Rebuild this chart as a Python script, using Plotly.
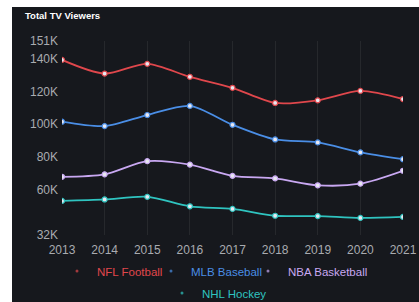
import plotly.graph_objects as go

years = [2013, 2014, 2015, 2016, 2017, 2018, 2019, 2020, 2021]
nfl = [139.4, 131.0, 137.0, 129.0, 122.3, 113.0, 114.6, 120.4, 115.4]
mlb = [101.5, 98.8, 105.6, 111.2, 99.6, 90.6, 88.8, 82.7, 78.5]
nba = [67.7, 69.2, 77.3, 75.2, 68.3, 66.7, 62.5, 63.5, 71.4]
nhl = [52.9, 53.8, 55.4, 49.6, 48.0, 43.8, 43.6, 42.5, 43.1]

series_names = ["NFL Football", "MLB Baseball", "NBA Basketball", "NHL Hockey"]
series_colors = ["#e0474c", "#4a8ee6", "#c9a8f2", "#2fc4c0"]
series_values = [nfl, mlb, nba, nhl]
legend_ids = ["legend", "legend2", "legend3", "legend4"]

ytick_vals = [32, 60, 80, 100, 120, 140, 151]
ytick_text = ["32K", "60K", "80K", "100K", "120K", "140K", "151K"]

W, H = 419, 302
ml, mr, mt, mb = 62, 16, 41, 67
OX, OY = 12, 7  # white border of the page around the dark panel
bg = "#16181d"

fig = go.Figure()
for name, col, vals in zip(series_names, series_colors, series_values):
    fig.add_trace(go.Scatter(
        x=years, y=vals, mode="lines+markers", name=name, showlegend=False,
        line=dict(color=col, width=1.8, shape="spline", smoothing=0.8),
        marker=dict(size=5, color="#e8e8f0", line=dict(color=col, width=1.2)),
    ))
for name, col, lg in zip(series_names, series_colors, legend_ids):
    fig.add_trace(go.Scatter(
        x=[None], y=[None], mode="markers", legend=lg,
        name=f"<span style='color:{col}'>{name}</span>",
        marker=dict(size=3, color=col, opacity=0.7),
    ))

# legend item placement: (marker x, row center y) in pixels
legend_pos = [(82, 271), (176, 271), (273, 271), (187, 293)]

leg_common = dict(orientation="h", xref="container", yref="container",
                  xanchor="left", yanchor="middle", font=dict(size=11.5),
                  itemwidth=30, bgcolor="rgba(0,0,0,0)", borderwidth=0)
legends = {}
for lg, (mx, my) in zip(legend_ids, legend_pos):
    legends[lg] = dict(x=(mx - 25) / W, y=(H - my) / H, **leg_common)

pw = W - ml - mr
ph = H - mt - mb
fig.update_layout(
    width=W, height=H,
    margin=dict(l=ml, r=mr, t=mt, b=mb, autoexpand=False),
    paper_bgcolor="#ffffff", plot_bgcolor=bg,
    font=dict(family="Liberation Sans, Arial, sans-serif", color="#a9abb0", size=12),
    xaxis=dict(range=[2013, 2021], tickvals=years, showgrid=True, automargin=False,
               gridcolor="rgba(255,255,255,0.07)", zeroline=False, showline=False,
               ticks="", ticklabelstandoff=6, tickfont=dict(size=12, color="#a9abb0")),
    yaxis=dict(range=[32, 151], tickvals=ytick_vals, ticktext=ytick_text, automargin=False,
               showgrid=False, zeroline=False, showline=False, ticks="",
               ticklabelstandoff=3, tickfont=dict(size=12, color="#a9abb0")),
    showlegend=True,
    title=dict(text="<b>Total TV Viewers</b>", x=25 / W, xanchor="left",
               y=1 - 16 / H, yanchor="middle", xref="container", yref="container",
               font=dict(size=9.5, color="#ffffff")),
    shapes=[
        dict(type="rect", xref="paper", yref="paper", layer="below",
             x0=-(ml - OX) / pw, x1=1 + (mr + 2) / pw,
             y0=-(mb + 2) / ph, y1=1 + (mt - OY) / ph,
             fillcolor=bg, line=dict(width=0)),
    ],
    **legends,
)
fig.write_html(
    "out.html",
    config={"displayModeBar": False},
    post_script=("document.body.style.margin='0px';"
                 "document.body.style.overflow='hidden';"),
)
